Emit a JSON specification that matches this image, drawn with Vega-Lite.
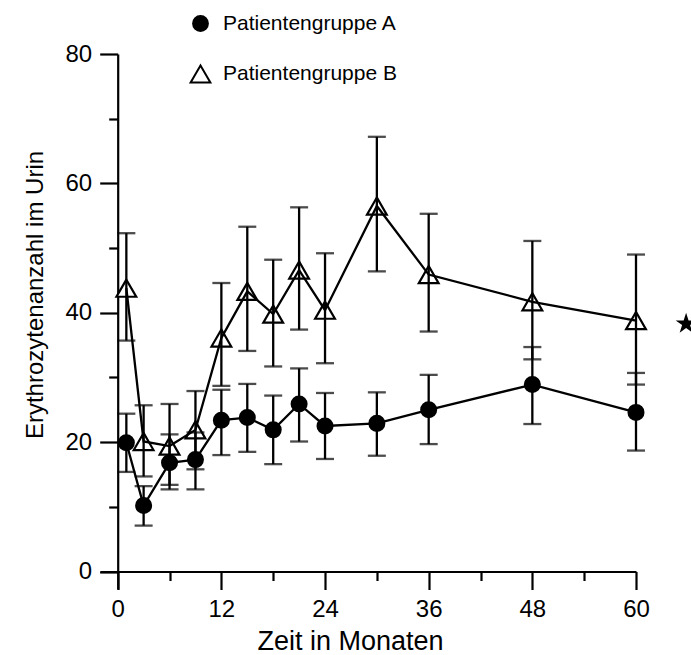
{
  "$schema": "https://vega.github.io/schema/vega-lite/v6.json",
  "width": 536,
  "height": 535,
  "autosize": {"type": "none"},
  "padding": {"left": 100, "top": 54, "right": 55, "bottom": 66},
  "background": "white",
  "config": {
    "view": {"stroke": null},
    "font": "Liberation Sans",
    "axis": {
      "grid": false,
      "domainColor": "black",
      "domainWidth": 2.2,
      "tickColor": "black",
      "tickWidth": 2.2,
      "labelColor": "black",
      "titleColor": "black",
      "labelFont": "Liberation Sans",
      "titleFont": "Liberation Sans",
      "titleFontWeight": "normal",
      "labelFontSize": 24
    },
    "legend": {
      "labelLimit": 400,
      "symbolStrokeWidth": 2
    }
  },
  "datasets": {
    "main": [
      {"group": "Patientengruppe A", "month": 1, "value": 19.9, "lo": 15.4, "hi": 24.4},
      {"group": "Patientengruppe A", "month": 3, "value": 10.2, "lo": 7.1, "hi": 13.2},
      {"group": "Patientengruppe A", "month": 6, "value": 16.8, "lo": 12.7, "hi": 21.2},
      {"group": "Patientengruppe A", "month": 9, "value": 17.3, "lo": 12.7, "hi": 21.5},
      {"group": "Patientengruppe A", "month": 12, "value": 23.4, "lo": 18.0, "hi": 28.1},
      {"group": "Patientengruppe A", "month": 15, "value": 23.8, "lo": 18.5, "hi": 29.0},
      {"group": "Patientengruppe A", "month": 18, "value": 21.9, "lo": 16.6, "hi": 27.2},
      {"group": "Patientengruppe A", "month": 21, "value": 25.9, "lo": 20.1, "hi": 31.4},
      {"group": "Patientengruppe A", "month": 24, "value": 22.5, "lo": 17.4, "hi": 27.6},
      {"group": "Patientengruppe A", "month": 30, "value": 22.9, "lo": 17.9, "hi": 27.7},
      {"group": "Patientengruppe A", "month": 36, "value": 25.0, "lo": 19.7, "hi": 30.4},
      {"group": "Patientengruppe A", "month": 48, "value": 28.9, "lo": 22.8, "hi": 34.7},
      {"group": "Patientengruppe A", "month": 60, "value": 24.6, "lo": 18.7, "hi": 30.7},
      {"group": "Patientengruppe B", "month": 1, "value": 43.8, "lo": 35.7, "hi": 52.3},
      {"group": "Patientengruppe B", "month": 3, "value": 20.1, "lo": 14.7, "hi": 25.7},
      {"group": "Patientengruppe B", "month": 6, "value": 19.4, "lo": 13.4, "hi": 25.9},
      {"group": "Patientengruppe B", "month": 9, "value": 21.9, "lo": 15.8, "hi": 27.9},
      {"group": "Patientengruppe B", "month": 12, "value": 36.1, "lo": 28.7, "hi": 44.6},
      {"group": "Patientengruppe B", "month": 15, "value": 43.3, "lo": 34.1, "hi": 53.3},
      {"group": "Patientengruppe B", "month": 18, "value": 39.8, "lo": 31.7, "hi": 48.2},
      {"group": "Patientengruppe B", "month": 21, "value": 46.6, "lo": 37.4, "hi": 56.3},
      {"group": "Patientengruppe B", "month": 24, "value": 40.4, "lo": 32.2, "hi": 49.2},
      {"group": "Patientengruppe B", "month": 30, "value": 56.5, "lo": 46.4, "hi": 67.2},
      {"group": "Patientengruppe B", "month": 36, "value": 45.9, "lo": 37.1, "hi": 55.3},
      {"group": "Patientengruppe B", "month": 48, "value": 41.7, "lo": 32.8, "hi": 51.1},
      {"group": "Patientengruppe B", "month": 60, "value": 38.8, "lo": 28.9, "hi": 49.0}
    ],
    "star": [{"month": 65.8, "value": 38.3}]
  },
  "layer": [
    {
      "data": {"name": "main"},
      "mark": {"type": "point", "filled": false, "strokeWidth": 2.2, "opacity": 1},
      "encoding": {
        "x": {
          "field": "month", "type": "quantitative",
          "scale": {"domain": [-2.05, 60], "nice": false, "zero": false},
          "title": "Zeit in Monaten",
          "axis": {
            "values": [0, 6, 12, 18, 24, 30, 36, 42, 48, 54, 60],
            "tickSize": {"condition": {"test": "datum.value % 12 === 0", "value": 18}, "value": 9},
            "labelExpr": "datum.value % 12 === 0 ? datum.label : ''",
            "offset": -17.5,
            "labelPadding": 8,
            "labelFlush": false,
            "labelOverlap": false,
            "labelBound": false,
            "titleFontSize": 27,
            "titleX": 250,
            "titleY": 78,
            "titleAlign": "center",
            "titleBaseline": "alphabetic"
          }
        },
        "y": {
          "field": "value", "type": "quantitative",
          "scale": {"domain": [-2.7, 80], "nice": false, "zero": false},
          "title": "Erythrozytenanzahl im Urin",
          "axis": {
            "values": [0, 10, 20, 30, 40, 50, 60, 70, 80],
            "tickSize": {"condition": {"test": "datum.value % 20 === 0", "value": 18}, "value": 9},
            "labelExpr": "datum.value % 20 === 0 ? datum.label : ''",
            "offset": -17.7,
            "labelPadding": 8,
            "labelOverlap": false,
            "labelBound": false,
            "titleFontSize": 24,
            "titleX": -75,
            "titleY": 240.5,
            "titleAlign": "center",
            "titleBaseline": "alphabetic",
            "titleAngle": -90
          }
        },
        "shape": {
          "field": "group", "type": "nominal",
          "scale": {"domain": ["Patientengruppe A", "Patientengruppe B"], "range": ["circle", "triangle-up"]},
          "legend": {
            "orient": "none", "legendX": 89.5, "legendY": -41, "title": null,
            "labelFontSize": 21, "labelFont": "Liberation Sans", "labelColor": "black", "labelLimit": 400,
            "labelOffset": 11.5, "rowPadding": 26, "padding": 0, "symbolStrokeWidth": 2
          }
        },
        "fill": {
          "field": "group", "type": "nominal",
          "scale": {"domain": ["Patientengruppe A", "Patientengruppe B"], "range": ["black", "white"]},
          "legend": {
            "orient": "none", "legendX": 89.5, "legendY": -41, "title": null,
            "labelFontSize": 21, "labelFont": "Liberation Sans", "labelColor": "black", "labelLimit": 400,
            "labelOffset": 11.5, "rowPadding": 26, "padding": 0, "symbolStrokeWidth": 2
          }
        },
        "stroke": {
          "field": "group", "type": "nominal",
          "scale": {"domain": ["Patientengruppe A", "Patientengruppe B"], "range": ["black", "black"]},
          "legend": {
            "orient": "none", "legendX": 89.5, "legendY": -41, "title": null,
            "labelFontSize": 21, "labelFont": "Liberation Sans", "labelColor": "black", "labelLimit": 400,
            "labelOffset": 11.5, "rowPadding": 26, "padding": 0, "symbolStrokeWidth": 2
          }
        },
        "size": {
          "field": "group", "type": "nominal",
          "scale": {"domain": ["Patientengruppe A", "Patientengruppe B"], "range": [220, 390]},
          "legend": {
            "orient": "none", "legendX": 89.5, "legendY": -41, "title": null,
            "labelFontSize": 21, "labelFont": "Liberation Sans", "labelColor": "black", "labelLimit": 400,
            "labelOffset": 11.5, "rowPadding": 26, "padding": 0, "symbolStrokeWidth": 2
          }
        }
      }
    },
    {
      "data": {"name": "main"},
      "mark": {"type": "line", "color": "black", "strokeWidth": 2.3},
      "encoding": {
        "x": {"field": "month", "type": "quantitative", "title": "Zeit in Monaten"},
        "y": {"field": "value", "type": "quantitative", "title": "Erythrozytenanzahl im Urin"},
        "detail": {"field": "group", "type": "nominal"}
      }
    },
    {
      "data": {"name": "main"},
      "mark": {"type": "errorbar", "color": "black", "ticks": {"size": 18, "thickness": 2.3, "color": "black"}, "rule": {"strokeWidth": 2.3, "color": "black"}},
      "encoding": {
        "x": {"field": "month", "type": "quantitative", "title": "Zeit in Monaten"},
        "y": {"field": "lo", "type": "quantitative", "title": "Erythrozytenanzahl im Urin"},
        "y2": {"field": "hi"},
        "detail": {"field": "group", "type": "nominal"}
      }
    },
    {
      "data": {"name": "star"},
      "mark": {"type": "point", "filled": true, "color": "black", "size": 480, "opacity": 1,
        "shape": "M0,-1L0.2245,-0.309L0.951,-0.309L0.363,0.118L0.588,0.809L0,0.382L-0.588,0.809L-0.363,0.118L-0.951,-0.309L-0.2245,-0.309Z"},
      "encoding": {
        "x": {"field": "month", "type": "quantitative", "title": "Zeit in Monaten"},
        "y": {"field": "value", "type": "quantitative", "title": "Erythrozytenanzahl im Urin"}
      }
    }
  ]
}
